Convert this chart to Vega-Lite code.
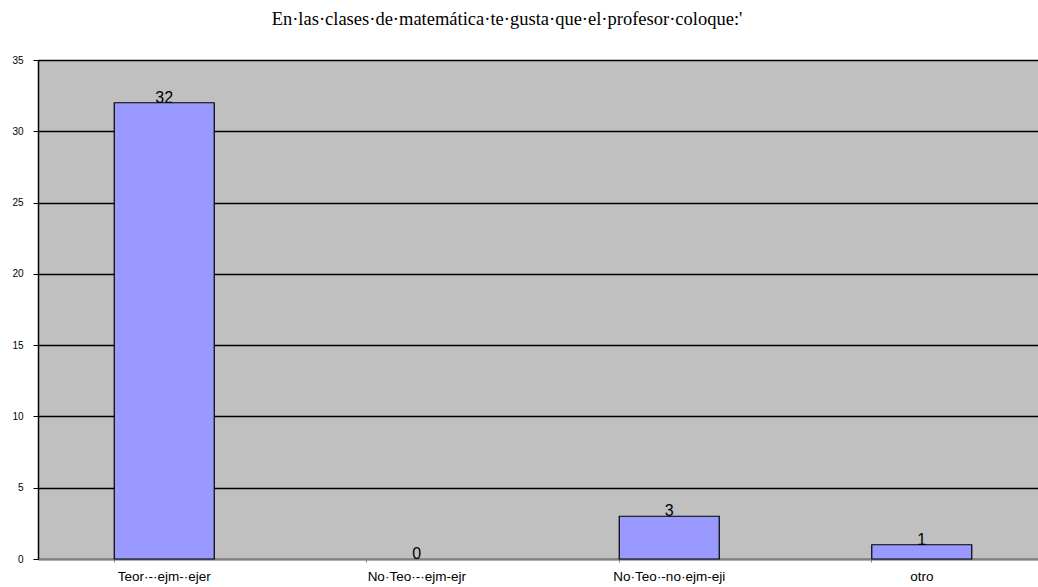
{
  "$schema": "https://vega.github.io/schema/vega-lite/v6.json",
  "width": 1000,
  "height": 499,
  "autosize": "none",
  "padding": {"left": 38, "top": 60, "right": 0, "bottom": 28},
  "background": "white",
  "config": {
    "view": {"fill": "#c0c0c0", "stroke": null}
  },
  "title": {
    "text": "En·las·clases·de·matemática·te·gusta·que·el·profesor·coloque:'",
    "font": "Liberation Serif",
    "fontSize": 18.5,
    "fontWeight": "normal",
    "color": "#000000",
    "anchor": "middle",
    "dx": -31,
    "baseline": "alphabetic",
    "offset": 12
  },
  "data": {
    "values": [
      {"cat": "Teor·-·ejm-·ejer", "value": 32},
      {"cat": "No·Teo·-·ejm-ejr", "value": 0},
      {"cat": "No·Teo·-no·ejm-eji", "value": 3},
      {"cat": "otro", "value": 1}
    ]
  },
  "encoding": {
    "x": {
      "field": "cat",
      "type": "nominal",
      "sort": null,
      "scale": {"range": [0, 1010], "paddingInner": 0.604, "paddingOuter": 0.302},
      "axis": {
        "title": null,
        "labelAngle": 0,
        "labelFont": "Liberation Sans",
        "labelFontSize": 13.5,
        "labelColor": "#000000",
        "labelPadding": 7,
        "domainColor": "#808080",
        "domainWidth": 1.5,
        "tickColor": "#808080",
        "tickSize": 3,
        "bandPosition": 0,
        "grid": false
      }
    },
    "y": {
      "field": "value",
      "type": "quantitative",
      "scale": {"domain": [0, 35], "nice": false},
      "axis": {
        "title": null,
        "values": [0, 5, 10, 15, 20, 25, 30, 35],
        "labelFont": "Liberation Sans",
        "labelFontSize": 10,
        "labelColor": "#000000",
        "labelPadding": 10,
        "tickSize": 5,
        "tickColor": "#000000",
        "domainColor": "#000000",
        "domainWidth": 1.5,
        "grid": true,
        "gridColor": "#000000",
        "gridWidth": 1.5
      }
    }
  },
  "layer": [
    {
      "mark": {"type": "bar", "fill": "#9999ff", "stroke": "#000000", "strokeWidth": 1.2},
      "encoding": {
        "strokeOpacity": {"condition": {"test": "datum.value == 0", "value": 0}, "value": 1}
      }
    },
    {
      "mark": {"type": "text", "font": "Liberation Sans", "fontSize": 16, "baseline": "alphabetic", "dy": 0, "color": "#000000"},
      "encoding": {"text": {"field": "value", "type": "quantitative"}}
    }
  ]
}
